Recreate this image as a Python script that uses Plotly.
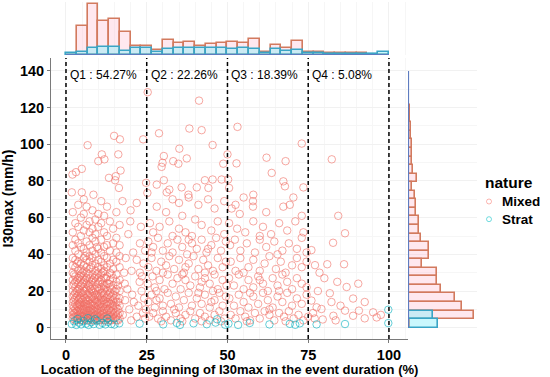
import numpy as np
import plotly.graph_objects as go

# ---------------- data ----------------
q_breaks = [0, 25, 50, 75, 100]
q_labels = ["Q1 : 54.27%", "Q2 : 22.26%", "Q3 : 18.39%", "Q4 : 5.08%"]

# marginal histogram counts (30 bins over 0-100 for x, 0-140 for y)
x_hist_mixed = [0, 87, 151, 100, 108, 67, 27, 27, 15, 45, 35, 38, 27, 34, 35,
                38, 35, 47, 10, 31, 20, 42, 10, 10, 7, 6, 7, 5, 0, 0]
x_hist_strat = [6, 10, 22, 25, 25, 13, 20, 20, 10, 18, 20, 22, 22, 20, 20,
                18, 20, 18, 5, 18, 12, 15, 5, 5, 3, 3, 3, 2, 2, 10]
y_hist_mixed = [5, 195, 160, 140, 97, 85, 87, 40, 63, 63, 38, 32, 32, 23, 23,
                20, 11, 27, 15, 12, 11, 11, 8, 8, 5, 5, 3, 2, 1, 1]
y_hist_strat = [90, 75, 0, 0, 0, 0, 0, 0, 0, 0, 0, 0, 0, 0, 0,
                0, 0, 0, 0, 0, 0, 0, 0, 0, 0, 0, 0, 0, 0, 0]

# dense Q1 block of Mixed events: (x, [y values])
mixed_q1_columns = [
    (2.1, [5, 7, 9, 12, 14, 17, 20, 23, 26, 30, 34, 38, 45, 52, 63]),
    (2.9, [4, 6, 8, 10, 13, 16, 19, 22, 25, 28, 33, 37, 42, 48, 57]),
    (3.8, [5, 7, 9, 11, 13, 15, 18, 21, 24, 27, 31, 36, 40, 46, 55, 67]),
    (4.6, [4, 6, 8, 10, 12, 14, 16, 19, 23, 26, 29, 32, 35, 44, 50, 60]),
    (5.5, [5, 6, 8, 10, 12, 14, 17, 20, 22, 25, 28, 31, 34, 38, 43, 53, 62, 70]),
    (6.4, [4, 6, 7, 9, 11, 13, 15, 18, 21, 24, 27, 30, 33, 37, 41, 47, 56, 66]),
    (7.3, [5, 7, 9, 11, 13, 16, 19, 22, 24, 27, 32, 36, 39, 45, 52, 58]),
    (8.2, [4, 6, 8, 10, 12, 14, 17, 20, 23, 26, 29, 34, 38, 42, 49, 54, 64]),
    (9.1, [5, 7, 9, 11, 13, 15, 18, 21, 25, 28, 31, 35, 40, 47, 51, 59]),
    (10.0, [4, 6, 8, 10, 12, 15, 17, 20, 24, 27, 30, 33, 37, 43, 55, 62]),
    (10.9, [5, 7, 9, 11, 14, 16, 19, 22, 26, 29, 32, 36, 41, 48, 57, 69]),
    (11.8, [4, 6, 8, 10, 13, 15, 18, 21, 23, 27, 31, 34, 39, 44, 52, 61]),
    (12.7, [5, 7, 9, 12, 14, 17, 20, 24, 28, 33, 38, 45, 50, 66]),
    (13.6, [4, 6, 8, 11, 13, 16, 19, 22, 26, 30, 35, 42, 58]),
    (14.6, [5, 7, 10, 12, 15, 18, 23, 27, 32, 37, 46, 54]),
    (15.6, [4, 6, 9, 11, 14, 17, 21, 25, 29, 36, 41, 49, 63]),
    (16.6, [5, 8, 12, 16, 20, 26, 33, 39, 45, 56]),
    (2.5, [6, 8, 11, 15, 18, 24, 29]),
    (3.4, [4, 6, 9, 12, 17, 20, 26, 35]),
    (4.2, [5, 7, 10, 13, 16, 21, 28]),
    (5.1, [4, 6, 9, 11, 15, 19, 24, 30]),
    (6.0, [5, 7, 10, 13, 16, 20, 26, 39]),
    (6.9, [4, 6, 8, 12, 15, 18, 23, 29]),
    (7.8, [5, 7, 10, 13, 17, 21, 25, 33]),
    (8.7, [4, 6, 9, 12, 16, 19, 27]),
    (9.6, [5, 7, 10, 14, 18, 22, 29, 44]),
    (10.5, [4, 6, 9, 13, 17, 21, 25]),
    (11.4, [5, 8, 11, 15, 19, 24, 30]),
    (12.3, [4, 6, 10, 13, 16, 22, 27]),
    (13.2, [5, 7, 10, 14, 18, 24]),
    (14.1, [4, 6, 9, 13, 17, 21, 29]),
    (15.1, [5, 8, 12, 16, 20]),
    (16.1, [4, 7, 10, 14, 23]),
]

mixed_q1_extra = [
    (17.5, 69), (21.9, 68), (19.9, 58), (19.3, 51), (22.9, 46), (20.8, 41), (18.5, 38),
    (21.9, 37), (24.0, 35), (20.3, 31), (23.5, 28), (22.9, 30), (18.2, 24), (23.4, 20),
    (20.5, 18), (24.2, 16), (18.3, 15), (22.4, 12), (19.6, 10), (23.8, 8), (21.9, 6),
    (17.6, 7), (24.5, 5), (20.2, 4), (22.8, 25), (19.0, 21), (21.0, 14), (24.5, 42),
    (18.0, 30), (20.0, 64), (23.2, 55), (24.7, 10),
]

mixed_q2 = [
    (28.1, 66), (33, 70), (35, 68), (38, 71), (41, 67), (44, 70), (46, 65), (49, 69), (31, 63), (36, 61),
    (26, 57), (29, 55), (32, 58), (35, 54), (37, 52), (40, 59), (42, 56), (45, 53), (47, 58), (49, 51),
    (27, 52), (33, 50), (39, 50),
    (25.5, 47), (27, 44), (28.5, 49), (30, 42), (31.5, 46), (33, 41), (34.5, 48), (36, 44), (37.5, 40),
    (39, 46), (40.5, 43), (42, 48), (43.5, 41), (45, 45), (46.5, 49), (48, 42), (49.5, 47), (26.5, 41),
    (38, 48), (44, 43),
    (25.5, 33), (26.5, 38), (28, 31), (29.5, 36), (31, 34), (32, 39), (33.5, 32), (35, 37), (36.5, 30),
    (38, 35), (39.5, 39), (41, 32), (42.5, 37), (44, 34), (45.5, 31), (47, 38), (48.5, 33), (49.5, 36),
    (30, 30), (37, 33), (43, 30),
    (25.3, 24), (26.8, 28), (27.5, 22), (29, 26), (30.5, 21), (31.5, 29), (33, 24), (34.5, 27), (35.5, 21),
    (37, 26), (38.5, 23), (40, 28), (41.5, 22), (43, 27), (44.5, 24), (46, 29), (47, 21), (48.5, 26),
    (49.7, 23), (28, 20), (36, 29), (42, 25), (45.5, 20),
    (25.5, 14), (26.5, 18), (27.5, 11), (29, 16), (30, 12), (31.5, 19), (32.5, 13), (34, 17), (35, 11),
    (36.5, 15), (38, 19), (39, 12), (40.5, 16), (42, 13), (43, 18), (44.5, 11), (46, 15), (47.5, 19),
    (48.5, 12), (49.5, 17), (28, 15), (33.5, 10), (41, 19), (45, 14),
    (25.8, 6), (27, 8), (28.5, 5), (30, 9), (31, 6), (32.5, 4), (34, 8), (35.5, 5), (37, 7), (38.5, 9),
    (40, 5), (41.5, 8), (43, 6), (44.5, 4), (46, 7), (47.5, 9), (49, 5), (29.5, 3.5), (36, 3.5),
    (42, 3.5), (48, 3.5),
]

mixed_q3 = [
    (51.3, 65), (52.5, 67), (53.8, 62), (57.9, 69), (57.9, 66), (62, 63), (67.3, 66), (69.3, 67),
    (70.4, 71), (73, 61), (55, 71),
    (50.5, 57), (53, 54), (55.5, 52), (58, 58), (61, 55), (63.5, 51), (66, 57), (68.5, 53), (71, 58),
    (73.5, 52), (60, 50),
    (50.8, 45), (52.3, 48), (54, 42), (56, 46), (58.5, 41), (60, 48), (62, 44), (64.5, 47), (67, 42),
    (69, 46), (71.5, 43), (73, 49), (74.5, 41), (65.5, 40),
    (51, 36), (52.5, 31), (54, 38), (56.5, 33), (58, 37), (60, 31), (61.5, 35), (63, 39), (65, 32),
    (66.5, 36), (68, 30), (70, 34), (71.5, 38), (73, 33), (74.5, 36), (55, 30),
    (50.5, 27), (52, 23), (53.5, 29), (55, 21), (56.5, 26), (58, 22), (59.5, 28), (61, 24), (62.5, 20),
    (64, 27), (65.5, 23), (67, 29), (68.5, 25), (70, 21), (71.5, 27), (73, 24), (74.5, 22), (60, 26),
    (66, 20),
    (50.6, 16), (52, 12), (53.5, 18), (55, 14), (56.5, 11), (58, 17), (59.5, 13), (61, 19), (62.5, 15),
    (64, 11), (65.5, 17), (67, 14), (68.5, 19), (70, 12), (71.5, 16), (73, 13), (74.5, 18), (57, 19),
    (63, 10),
    (51, 7), (52.5, 5), (54, 9), (55.5, 6), (57, 4), (58.5, 8), (60, 5), (61.5, 9), (63, 7), (64.5, 4),
    (66, 8), (67.5, 6), (69, 9), (70.5, 5), (72, 7), (73.5, 4), (75, 6), (56, 3.5), (68, 3.5),
]

mixed_q4 = [
    (84.3, 61), (86.4, 51.5), (82.7, 46.3), (77.1, 34.1), (80.9, 34.6), (86.1, 34.6), (76, 42.3),
    (86.9, 22.2), (90.5, 24), (81.7, 18.8), (78, 20), (82.2, 14), (88.9, 15.9), (92.5, 14), (95.1, 8.4),
    (90.7, 9.3), (86.4, 9.3), (82.8, 6.5), (77.6, 11.1), (76, 14.8), (79.1, 10.2), (88.9, 6.5),
    (96.2, 5.6), (92.5, 5.1), (77, 5), (80, 27), (84, 25), (78.5, 30), (76.5, 8), (85, 12),
    (79.5, 4.5), (83.5, 4), (97.5, 7),
]

mixed_upper = [
    (25.3, 128.4), (41.2, 123.8), (53.1, 109.5), (38.2, 108.6), (42.0, 107.7), (28.8, 106),
    (14.9, 104.6), (16.7, 102.7), (23.9, 102.7), (6.7, 99.5), (45.4, 99.6), (73, 100.4), (35.1, 97.6),
    (11.1, 94.5), (16.2, 94.5), (30.3, 93.6), (37.4, 92.3), (50, 94.5), (62.1, 92.7), (82.3, 91.8),
    (10, 90.8), (11.9, 91.8), (33.2, 90.8), (34.8, 89.4), (29.9, 89.9), (29.6, 87.7), (48.7, 89.4),
    (52.8, 89.6), (68, 90.8), (4.9, 86.6), (3.1, 84.8), (2, 83.5), (16.9, 85.7), (13.3, 81.7),
    (15.4, 82.6), (15.2, 80.4), (63.7, 84.4), (30.3, 80.4), (28.1, 78), (32, 75.3), (31.2, 73.8),
    (35.8, 76.5), (37.9, 72.5), (40.5, 76.5), (43, 80.4), (45.4, 80.8), (48.2, 80.8), (50.2, 80.8),
    (44.1, 76.2), (50.5, 76.2), (16.4, 76.2), (24.8, 79), (67.3, 79.8), (67.8, 77.1), (73.5, 76.5),
    (1.8, 73.8), (4.9, 73.8), (8.5, 72.5), (25.2, 73.5), (58, 72.5),
]

strat_pts = [
    (1.8, 2.0), (2.5, 3.5), (3.2, 1.5), (4.0, 2.8), (4.7, 1.8), (5.5, 3.6), (6.2, 2.2), (7.0, 1.5),
    (7.8, 3.0), (8.6, 2.0), (9.5, 3.8), (10.4, 1.6), (11.3, 2.6), (12.2, 1.8), (13.0, 3.2), (14.0, 2.0),
    (15.0, 1.7), (16.5, 2.4), (3.6, 4.8), (6.8, 5.2), (9.0, 4.6), (12.8, 5.0), (22.8, 2.2), (30.1, 1.8),
    (34.3, 2.6), (35.3, 1.5), (39.5, 2.4), (43.6, 1.9), (46.3, 2.8), (46.8, 4.6), (49.3, 1.6),
    (50.3, 2.2), (53.3, 1.5), (56.9, 2.6), (63.0, 1.8), (69.3, 2.1), (71.0, 1.6), (72.4, 2.4),
    (77.6, 1.8), (86.4, 2.0), (99.8, 2.5), (99.8, 9.8),
]

# ---------------- assemble ----------------
mixed_x, mixed_y = [], []
for cx, ys in mixed_q1_columns:
    for yv in ys:
        mixed_x.append(cx)
        mixed_y.append(yv)
for group in (mixed_q1_extra, mixed_q2, mixed_q3, mixed_q4, mixed_upper):
    for px_, py_ in group:
        mixed_x.append(px_)
        mixed_y.append(py_)
strat_x = [p[0] for p in strat_pts]
strat_y = [p[1] for p in strat_pts]

x_edges = np.linspace(0, 100, len(x_hist_mixed) + 1)
y_edges = np.linspace(0, 140, len(y_hist_mixed) + 1)
x_centers = (x_edges[:-1] + x_edges[1:]) / 2
y_centers = (y_edges[:-1] + y_edges[1:]) / 2
bwx = x_edges[1] - x_edges[0]
bwy = y_edges[1] - y_edges[0]

W, H = 550, 377
def fx(px):
    return px / W
def fy(py):
    return (H - py) / H

MIX_LINE = "#D27A5E"
MIX_FILL = "rgba(255,190,210,0.35)"
STR_LINE = "#3AA5C6"
STR_FILL = "rgba(140,240,250,0.45)"
BASE = "#5E7CC0"
FONT = "Liberation Sans, Arial, sans-serif"

fig = go.Figure()

# top marginal histogram
fig.add_trace(go.Bar(x=x_centers, y=x_hist_mixed, width=bwx, xaxis="x", yaxis="y2",
                     marker=dict(color=MIX_FILL, line=dict(color=MIX_LINE, width=1.6)),
                     showlegend=False, hoverinfo="skip"))
fig.add_trace(go.Bar(x=x_centers, y=x_hist_strat, width=bwx, xaxis="x", yaxis="y2",
                     marker=dict(color=STR_FILL, line=dict(color=STR_LINE, width=1.6)),
                     showlegend=False, hoverinfo="skip"))
fig.add_trace(go.Scatter(x=[x_edges[0], x_edges[-1]], y=[0, 0], xaxis="x", yaxis="y2",
                         mode="lines", line=dict(color=BASE, width=2.2),
                         showlegend=False, hoverinfo="skip"))

# right marginal histogram
fig.add_trace(go.Bar(y=y_centers, x=y_hist_mixed, width=bwy, orientation="h", xaxis="x3", yaxis="y",
                     marker=dict(color=MIX_FILL, line=dict(color=MIX_LINE, width=1.6)),
                     showlegend=False, hoverinfo="skip"))
fig.add_trace(go.Bar(y=y_centers, x=y_hist_strat, width=bwy, orientation="h", xaxis="x3", yaxis="y",
                     marker=dict(color=STR_FILL, line=dict(color=STR_LINE, width=1.6)),
                     showlegend=False, hoverinfo="skip"))
fig.add_trace(go.Scatter(x=[0, 0], y=[y_edges[0], y_edges[-1]], xaxis="x3", yaxis="y",
                         mode="lines", line=dict(color=BASE, width=2.2),
                         showlegend=False, hoverinfo="skip"))

# scatter
fig.add_trace(go.Scatter(x=mixed_x, y=mixed_y, mode="markers", name="Mixed", xaxis="x", yaxis="y",
                         marker=dict(symbol="circle-open", size=7.5, color="rgba(240,110,100,0.6)",
                                     line=dict(width=1)), showlegend=False))
fig.add_trace(go.Scatter(x=strat_x, y=strat_y, mode="markers", name="Strat", xaxis="x", yaxis="y",
                         marker=dict(symbol="circle-open", size=7.5, color="rgba(0,175,190,0.6)",
                                     line=dict(width=1)), showlegend=False))

shapes = []
for qb in q_breaks:
    shapes.append(dict(type="line", xref="x", yref="y domain", x0=qb, x1=qb, y0=0, y1=1,
                       line=dict(color="black", width=1.5, dash="4px,3px")))

annotations = []
for qb, lab in zip(q_breaks[:-1], q_labels):
    annotations.append(dict(x=qb + 0.6, y=137.8, xref="x", yref="y", text=lab, showarrow=False,
                            xanchor="left", yanchor="middle",
                            font=dict(family=FONT, size=12, color="black")))

# legend (drawn as text + symbols)
annotations.append(dict(x=fx(483), y=fy(182), xref="paper", yref="paper", text="<b>nature</b>",
                        showarrow=False, xanchor="left", yanchor="middle",
                        font=dict(family=FONT, size=15.5, color="black")))
for lab, yy, col in (("Mixed", 201.5, "rgba(248,118,109,0.55)"), ("Strat", 219.2, "rgba(0,191,196,0.55)")):
    annotations.append(dict(x=fx(500), y=fy(yy), xref="paper", yref="paper", text="<b>" + lab + "</b>",
                            showarrow=False, xanchor="left", yanchor="middle",
                            font=dict(family=FONT, size=13.5, color="black")))
    shapes.append(dict(type="circle", xref="paper", yref="paper",
                       x0=fx(486.5), x1=fx(491.5), y0=fy(yy + 2.5), y1=fy(yy - 2.5),
                       line=dict(color=col, width=1)))

axis_common = dict(showline=True, linecolor="#7a7a7a", linewidth=1, ticks="outside", ticklen=3,
                   tickcolor="#7a7a7a", showgrid=True, gridcolor="#F1F1F1", gridwidth=0.8,
                   zeroline=False, automargin=False,
                   tickfont=dict(family=FONT, size=14.5, color="black", weight="bold"),
                   minor=dict(showgrid=True, gridcolor="#F6F6F6", gridwidth=0.6))

fig.update_layout(
    width=W, height=H, margin=dict(l=0, r=0, t=0, b=0, autoexpand=False),
    paper_bgcolor="white", plot_bgcolor="white", barmode="overlay", bargap=0,
    showlegend=False,
    xaxis=dict(domain=[fx(51), fx(408)], range=[-4.64, 105.9], tickvals=q_breaks,
               title=dict(text="<b>Location of the beginning of I30max in the event duration (%)</b>",
                          font=dict(family=FONT, size=13, color="black"), standoff=2),
               anchor="y", **axis_common),
    yaxis=dict(domain=[fy(339), fy(58)], range=[-6.16, 147.05], tickvals=[0, 20, 40, 60, 80, 100, 120, 140],
               title=dict(text="<b>I30max (mm/h)</b>", font=dict(family=FONT, size=14, color="black"),
                          standoff=4),
               anchor="x", **axis_common),
    yaxis2=dict(domain=[fy(55), fy(2)], range=[0, 157], visible=False, anchor="x"),
    xaxis3=dict(domain=[fx(408), fx(477)], range=[0, 204], visible=False, anchor="y"),
    shapes=shapes, annotations=annotations,
    font=dict(family=FONT, color="black"),
)

fig.write_html("out.html", config={"displayModeBar": False},
               post_script="document.body.style.margin='0';document.body.style.overflow='hidden';")
